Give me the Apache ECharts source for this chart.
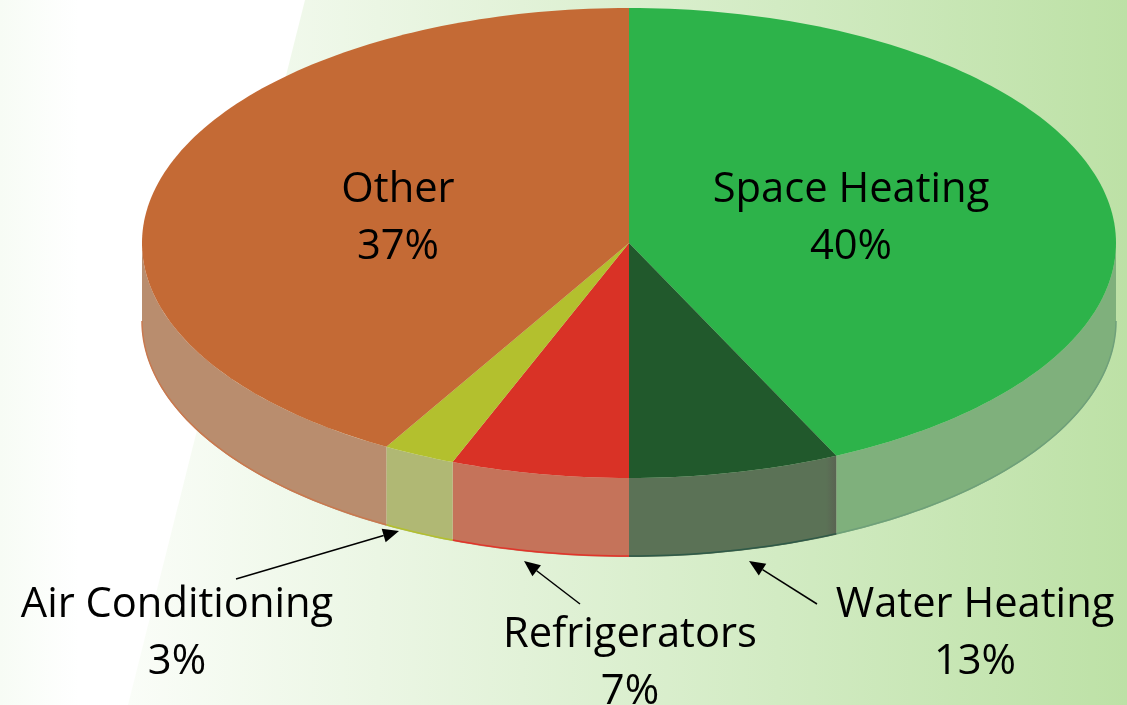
<!DOCTYPE html>
<html>
<head>
    <meta charset="utf-8">
    <title>Residential energy use</title>
    <script src="https://cdn.jsdelivr.net/npm/echarts@6/dist/echarts.min.js"></script>
    <style>
        html, body { margin: 0; padding: 0; background: #fff; }
    </style>
</head>
<body>
    <div id="main" style="width: 1127px; height: 705px;"></div>

    <script>
        // data
        var categories = ['Space Heating', 'Water Heating', 'Refrigerators', 'Air Conditioning', 'Other'];
        var statedPercent = [40, 13, 7, 3, 37];
        // the drawn wedges do not follow the printed numbers, these are the drawn shares
        var drawnShare = [43.0, 7.0, 5.9, 2.4, 41.7];
        var topColors = ['#2db34a', '#21592c', '#d93226', '#b3c02e', '#c46a35'];
        var wallColors = ['#7fb07c', '#5b7256', '#c5735a', '#b0b874', '#b98d6e'];
        var wallEndColors = ['#7fb07c', '#5a6352', '#c5735a', '#b0b874', '#b98d6e'];
        var rimColors = ['#6fa07a', '#2f5a48', '#e0352b', '#b3c02e', '#c9794f'];

        // layout
        var cx = 629, cy = 243, rx = 487, ry = 235, depth = 79;
        var fontName = '"Open Sans", sans-serif';
        var fontSize = 41.7;
        var labelBoxes = [
            { x: 851, y: 190, gap: 57 },
            { x: 975, y: 605, gap: 57 },
            { x: 630, y: 635, gap: 57 },
            { x: 177, y: 605, gap: 57 },
            { x: 398, y: 190, gap: 57 }
        ];
        var arrows = [
            { from: [236, 579], to: [399, 531] },
            { from: [580, 604], to: [524, 561] },
            { from: [817, 604], to: [749, 561] }
        ];

        var chartDom = document.getElementById('main');
        var myChart = echarts.init(chartDom);

        function ellipsePoint(pct, dy) {
            var a = pct / 100 * Math.PI * 2;
            return [cx + rx * Math.sin(a), cy + dy - ry * Math.cos(a)];
        }

        function arc(from, to, dy) {
            var pts = [];
            var steps = Math.max(2, Math.ceil((to - from) * 3));
            for (var i = 0; i <= steps; i++) {
                pts.push(ellipsePoint(from + (to - from) * i / steps, dy));
            }
            return pts;
        }

        function startOf(index) {
            var sum = 0;
            for (var i = 0; i < index; i++) {
                sum += drawnShare[i];
            }
            return sum;
        }

        function renderSlice(params, api) {
            var i = api.value(0);
            var from = startOf(i);
            var to = from + api.value(1);
            var children = [];

            // side wall, only the front half of the disc shows it
            var wallFrom = Math.max(from, 25);
            var wallTo = Math.min(to, 75);
            if (wallTo > wallFrom) {
                children.push({
                    type: 'polygon',
                    shape: { points: arc(wallFrom, wallTo, 0).concat(arc(wallFrom, wallTo, depth).reverse()) },
                    style: {
                        fill: new echarts.graphic.LinearGradient(1, 0, 0, 0, [
                            { offset: 0, color: wallEndColors[i] },
                            { offset: 0.05, color: wallColors[i] },
                            { offset: 1, color: wallColors[i] }
                        ])
                    },
                    z2: 1
                });
                children.push({
                    type: 'polyline',
                    shape: { points: arc(wallFrom, wallTo, depth - 1) },
                    style: { fill: null, stroke: rimColors[i], lineWidth: 1.5 },
                    z2: 2
                });
            }

            var top = [[cx, cy]].concat(arc(from, to, 0));
            children.push({
                type: 'polygon',
                shape: { points: top },
                style: { fill: topColors[i] },
                z2: 3
            });
            return { type: 'group', children: children };
        }

        function renderLabel(params, api) {
            var i = api.value(0);
            var box = labelBoxes[i];
            var textStyle = function (text, y) {
                return {
                    type: 'text',
                    style: {
                        x: box.x, y: y, text: text, fill: '#000',
                        font: fontSize + 'px ' + fontName,
                        align: 'center', verticalAlign: 'middle'
                    }
                };
            };
            return {
                type: 'group',
                children: [
                    textStyle(categories[i], box.y),
                    textStyle(api.value(1) + '%', box.y + box.gap)
                ]
            };
        }

        function arrowElements(item) {
            var dx = item.to[0] - item.from[0];
            var dy = item.to[1] - item.from[1];
            var len = Math.sqrt(dx * dx + dy * dy);
            var ux = dx / len, uy = dy / len;
            var headLen = 16, headHalf = 7;
            var bx = item.to[0] - ux * headLen, by = item.to[1] - uy * headLen;
            return [
                {
                    type: 'line',
                    z: 10,
                    shape: { x1: item.from[0], y1: item.from[1], x2: bx, y2: by },
                    style: { stroke: '#000', lineWidth: 1.5 }
                },
                {
                    type: 'polygon',
                    z: 10,
                    shape: { points: [item.to, [bx - uy * headHalf, by + ux * headHalf], [bx + uy * headHalf, by - ux * headHalf]] },
                    style: { fill: '#000' }
                }
            ];
        }

        var graphics = [
            // faint tint on the far left, white band, then the green panel
            {
                type: 'rect', z: 0,
                shape: { x: 0, y: 0, width: 1127, height: 705 },
                style: {
                    fill: new echarts.graphic.LinearGradient(0, 0, 1, 0, [
                        { offset: 0, color: '#f7fcf5' },
                        { offset: 0.07, color: '#ffffff' },
                        { offset: 1, color: '#ffffff' }
                    ])
                }
            },
            {
                type: 'polygon', z: 0,
                shape: { points: [[305, 0], [1127, 0], [1127, 705], [128, 705]] },
                style: {
                    fill: new echarts.graphic.LinearGradient(0, 0, 1, 0, [
                        { offset: 0, color: '#fafdf8' },
                        { offset: 0.25, color: '#ebf6e4' },
                        { offset: 0.65, color: '#d2ebc3' },
                        { offset: 1, color: '#bde1a6' }
                    ])
                }
            }
        ];
        arrows.forEach(function (item) {
            graphics = graphics.concat(arrowElements(item));
        });

        var sliceData = categories.map(function (name, i) {
            return { name: name, value: [i, drawnShare[i]] };
        });
        var labelData = categories.map(function (name, i) {
            return { name: name, value: [i, statedPercent[i]] };
        });

        var option = {
            animation: false,
            graphic: graphics,
            series: [
                {
                    type: 'custom',
                    coordinateSystem: 'none',
                    renderItem: renderSlice,
                    data: sliceData,
                    silent: true,
                    z: 2
                },
                {
                    type: 'custom',
                    coordinateSystem: 'none',
                    renderItem: renderLabel,
                    data: labelData,
                    silent: true,
                    z: 5
                }
            ]
        };

        myChart.setOption(option);
    </script>
</body>
</html>
